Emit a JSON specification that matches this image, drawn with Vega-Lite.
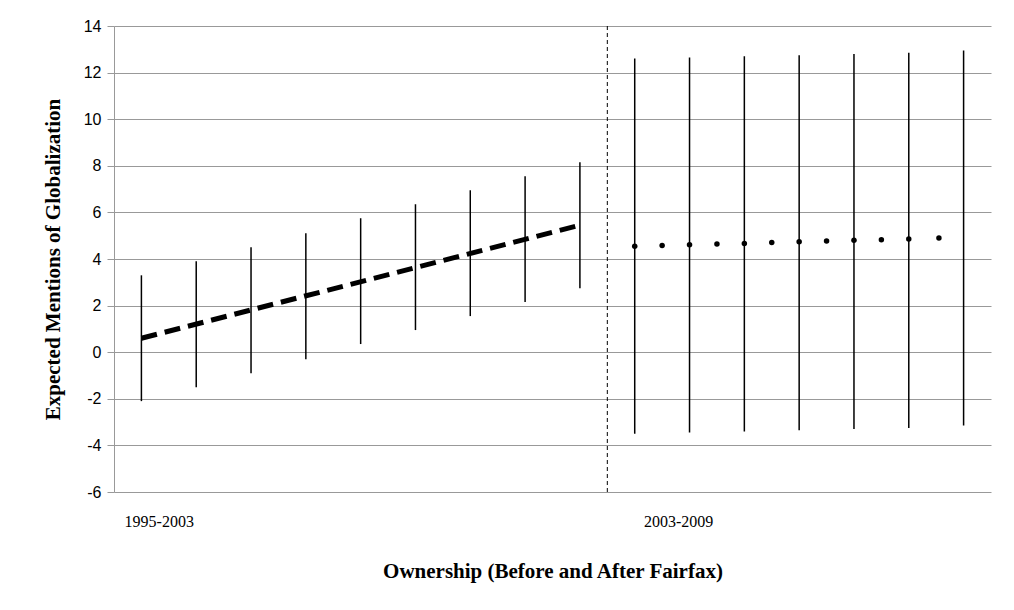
{
"$schema":"https://vega.github.io/schema/vega-lite/v6.json",
"width":877,"height":466,
"autosize":{"type":"none"},
"padding":{"left":114,"top":26,"right":23,"bottom":118},
"background":"white",
"config":{"view":{"stroke":null},"font":"Liberation Serif"},
"datasets":{
"bars":[
{"x":1,"lo":-2.1,"hi":3.3},{"x":3,"lo":-1.5,"hi":3.9},{"x":5,"lo":-0.9,"hi":4.5},{"x":7,"lo":-0.3,"hi":5.1},{"x":9,"lo":0.35,"hi":5.75},{"x":11,"lo":0.95,"hi":6.35},{"x":13,"lo":1.55,"hi":6.95},{"x":15,"lo":2.15,"hi":7.55},{"x":17,"lo":2.75,"hi":8.15},
{"x":19,"lo":-3.5,"hi":12.6},{"x":21,"lo":-3.45,"hi":12.65},{"x":23,"lo":-3.4,"hi":12.7},{"x":25,"lo":-3.35,"hi":12.75},{"x":27,"lo":-3.3,"hi":12.8},{"x":29,"lo":-3.25,"hi":12.85},{"x":31,"lo":-3.15,"hi":12.95}],
"line":[{"x":1,"y":0.6},{"x":17,"y":5.45}],
"dots":[{"x":19,"y":4.55},{"x":20,"y":4.58},{"x":21,"y":4.61},{"x":22,"y":4.64},{"x":23,"y":4.67},{"x":24,"y":4.71},{"x":25,"y":4.74},{"x":26,"y":4.77},{"x":27,"y":4.8},{"x":28,"y":4.83},{"x":29,"y":4.86},{"x":30.1,"y":4.9}],
"labels":[{"x":1.65,"y":-7.3,"t":"1995-2003"},{"x":20.6,"y":-7.3,"t":"2003-2009"}],
"divider":[{"x":18,"lo":-6,"hi":14}]
},
"layer":[
{"data":{"name":"bars"},"mark":{"type":"rule","color":"black","strokeWidth":1.5},
 "encoding":{"x":{"field":"x","type":"quantitative","scale":{"domain":[0,32],"nice":false,"zero":false},
   "axis":{"title":"Ownership (Before and After Fairfax)","titleFont":"Liberation Serif","titleFontSize":21,"titleFontWeight":"bold","titleColor":"black","titlePadding":68,"labels":false,"ticks":false,"grid":false,"domain":false}},
  "y":{"field":"lo","type":"quantitative","scale":{"domain":[-6,14],"nice":false},
   "axis":{"title":"Expected Mentions of Globalization","titleFont":"Liberation Serif","titleFontSize":21,"titleFontWeight":"bold","titleColor":"black","titlePadding":20,"values":[-6,-4,-2,0,2,4,6,8,10,12,14],"labelExpr":"replace(datum.label, '\u2212', '-')","labelFont":"Liberation Sans","labelFontSize":16,"labelColor":"black","labelPadding":6,"gridColor":"#999999","gridOpacity":1,"tickColor":"#999999","tickSize":7,"domainColor":"#999999"}},
  "y2":{"field":"hi"}}},
{"data":{"name":"divider"},"mark":{"type":"rule","color":"black","strokeWidth":1,"strokeDash":[4,3]},
 "encoding":{"x":{"field":"x","type":"quantitative"},"y":{"field":"lo","type":"quantitative"},"y2":{"field":"hi"}}},
{"data":{"name":"line"},"mark":{"type":"line","color":"black","strokeWidth":5,"strokeDash":[16,8]},
 "encoding":{"x":{"field":"x","type":"quantitative"},"y":{"field":"y","type":"quantitative"}}},
{"data":{"name":"dots"},"mark":{"type":"circle","color":"black","opacity":1,"size":30},
 "encoding":{"x":{"field":"x","type":"quantitative"},"y":{"field":"y","type":"quantitative"}}},
{"data":{"name":"labels"},"mark":{"type":"text","font":"Liberation Serif","fontSize":16,"color":"black","clip":false},
 "encoding":{"x":{"field":"x","type":"quantitative"},"y":{"field":"y","type":"quantitative"},"text":{"field":"t"}}}
]
}
